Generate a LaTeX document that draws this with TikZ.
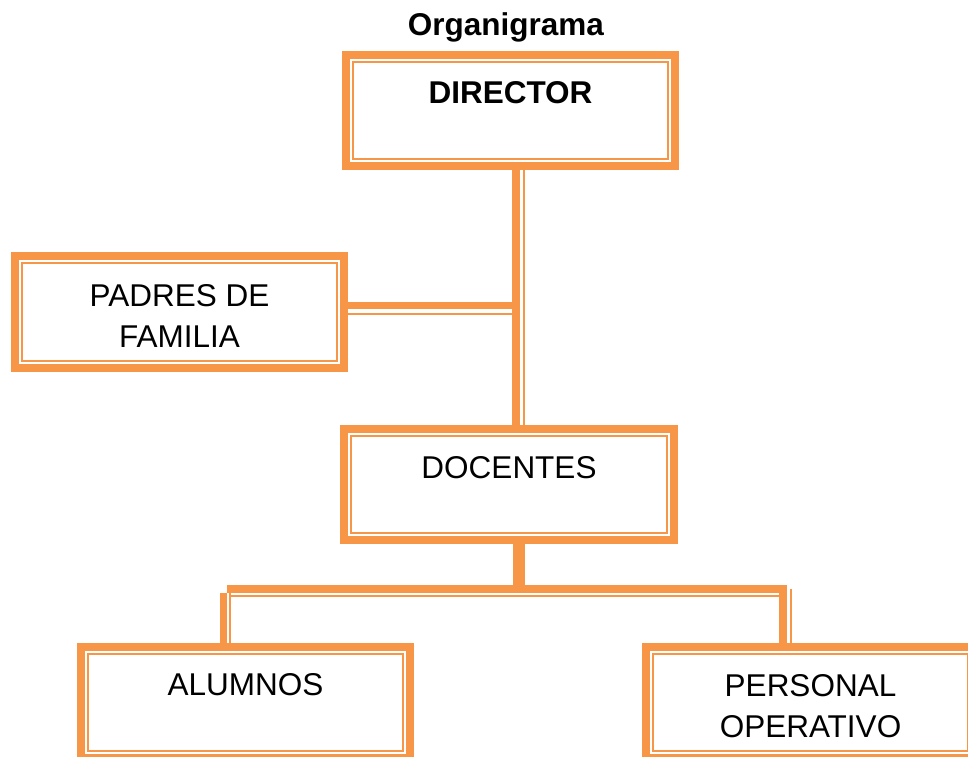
\documentclass[tikz,border=0pt]{standalone}
\usepackage{fontspec}
\setmainfont{Liberation Sans}
\definecolor{org}{HTML}{F79646}
\begin{document}
\begin{tikzpicture}[x=1pt,y=-1pt,
  orgbox/.style={draw=org, line width=8pt, minimum width=329pt, minimum height=111pt, inner sep=0pt, outer sep=0pt},
  innerline/.style={draw=org, line width=2pt},
  thk/.style={draw=org, line width=7.6pt},
  thn/.style={draw=org, line width=2.3pt},
  lbl/.style={font=\fontsize{31.5}{41}\selectfont, align=center, anchor=base, inner sep=0pt},
]
\useasboundingbox (0,0) rectangle (968,756);
% boxes
\node[orgbox] (director) at (510.5,110.5) {};
\node[orgbox, minimum height=112pt] (padres) at (179.5,312) {};
\node[orgbox, minimum width=330pt] (docentes) at (509,484.5) {};
\node[orgbox] (alumnos) at (245.5,702.5) {};
\node[orgbox] (personal) at (810.5,702.5) {};
\foreach \n in {director,padres,docentes,alumnos,personal}
  \draw[innerline] ([xshift=7,yshift=-7]\n.north west) rectangle ([xshift=-7,yshift=7]\n.south east);
% texts
\node[lbl] (title) at (505.8,35) {\bfseries Organigrama};
\node[lbl] (tdirector) at ([yshift=-48.5]director.north) {\bfseries DIRECTOR};
\node[lbl] (tpadres) at ([yshift=-91]padres.north) {PADRES DE\\FAMILIA};
\node[lbl] (tdocentes) at ([yshift=-49]docentes.north) {DOCENTES};
\node[lbl] (talumnos) at ([yshift=-48]alumnos.north) {ALUMNOS};
\node[lbl] (tpersonal) at ([yshift=-90.5]personal.north) {PERSONAL\\OPERATIVO};
% director -> docentes
\coordinate (trunk) at ([xshift=5.5]director.south);
\draw[thk] (trunk) -- (trunk |- docentes.north);
\draw[thn] ([xshift=13.3]director.south) -- ([xshift=13.3]director.south |- docentes.north);
% padres -> trunk
\draw[thk] ([yshift=6.5]padres.east) -- ([yshift=6.5]padres.east -| trunk);
\draw[thn] ([yshift=-1.7]padres.east) -- ([yshift=-1.7]padres.east -| trunk);
% docentes -> children
\coordinate (bus) at ([yshift=-48.8]docentes.south);
\coordinate (busthin) at ([yshift=-56.2]docentes.south);
\coordinate (busbot) at ([yshift=-52.5]docentes.south);
\draw[thk, line width=12pt] ([xshift=10]docentes.south) -- ([xshift=10]docentes.south |- bus);
\draw[thk] ([xshift=-18.4]alumnos.north |- bus) -- ([xshift=-23.6]personal.north |- bus);
\draw[thn] ([xshift=-15.5]alumnos.north |- busthin) -- ([xshift=-31.5]personal.north |- busthin);
\draw[thk] ([xshift=-22]alumnos.north |- busbot) -- ([xshift=-22]alumnos.north);
\draw[thn] ([xshift=-15.5]alumnos.north |- busbot) -- ([xshift=-15.5]alumnos.north);
\draw[thk] ([xshift=-27.5]personal.north |- bus) -- ([xshift=-27.5]personal.north);
\draw[thn] ([xshift=-19.5]personal.north |- bus) -- ([xshift=-19.5]personal.north);
\end{tikzpicture}
\end{document}
